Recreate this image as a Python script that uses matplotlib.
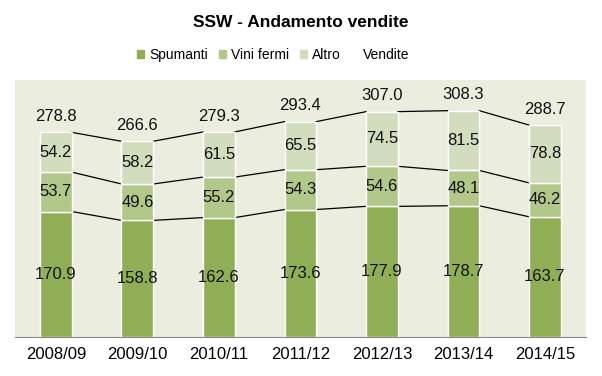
import matplotlib.pyplot as plt
from matplotlib.patches import Patch
from matplotlib.lines import Line2D
import numpy as np

years = ['2008/09', '2009/10', '2010/11', '2011/12', '2012/13', '2013/14', '2014/15']
spumanti = [170.9, 158.8, 162.6, 173.6, 177.9, 178.7, 163.7]
vini_fermi = [53.7, 49.6, 55.2, 54.3, 54.6, 48.1, 46.2]
altro = [54.2, 58.2, 61.5, 65.5, 74.5, 81.5, 78.8]
vendite = [278.8, 266.6, 279.3, 293.4, 307.0, 308.3, 288.7]

series = [spumanti, vini_fermi, altro]
names = ['Spumanti', 'Vini fermi', 'Altro']
colors = ['#8FAE55', '#B2C88A', '#D2DDBD']
narrow = ['Liberation Sans Narrow', 'DejaVu Sans Condensed', 'Liberation Sans']
plt.rcParams['font.family'] = ['Liberation Sans', 'DejaVu Sans']

fig = plt.figure(figsize=(6.02, 3.76), dpi=100)
ax = fig.add_axes([0.025, 0.104, 0.948, 0.683])
ax.set_facecolor('#EBEEDF')

x = np.arange(len(years))
w = 0.39
bottom = np.zeros(len(years))
for vals, name, col in zip(series, names, colors):
    vals = np.array(vals)
    ax.bar(x, vals, w, bottom=bottom, color=col, edgecolor='white', linewidth=1, zorder=2)
    for xi, b, v in zip(x, bottom, vals):
        ax.text(xi, b + v / 2, f'{v:.1f}', ha='center', va='center', fontsize=12, color='#111111', zorder=3)
    bottom = bottom + vals
    # connecting series lines
    for i in range(len(years) - 1):
        ax.plot([x[i] + w / 2, x[i + 1] - w / 2], [bottom[i], bottom[i + 1]], color='black', lw=0.9, zorder=1)

for xi, t in zip(x, vendite):
    ax.annotate(f'{t:.1f}', (xi, t), xytext=(0, 6), textcoords='offset points',
                ha='center', va='bottom', fontsize=12, color='#111111')

ax.set_xlim(-0.5, len(years) - 0.5)
ax.set_ylim(0, 350)
ax.set_xticks(x)
ax.set_xticklabels(years, fontsize=12)
ax.tick_params(axis='x', length=0, pad=7)
ax.set_yticks([])
for s in ['top', 'left', 'right']:
    ax.spines[s].set_visible(False)
ax.spines['bottom'].set_color('#888888')

fig.text(0.5, 0.941, 'SSW - Andamento vendite', ha='center', va='center',
         fontsize=12.5, fontweight='bold', family=narrow)

handles = [Patch(color=c) for c in colors] + [Line2D([], [], color='none')]
leg = fig.legend(handles, names + ['Vendite'], loc='center left', bbox_to_anchor=(0.228, 0.853),
                 ncol=4, frameon=False, handlelength=0.5, handleheight=0.5, borderpad=0,
                 borderaxespad=0, handletextpad=0.35, columnspacing=0.8,
                 prop={'family': narrow, 'size': 10})

fig.savefig('out.png', dpi=100)
